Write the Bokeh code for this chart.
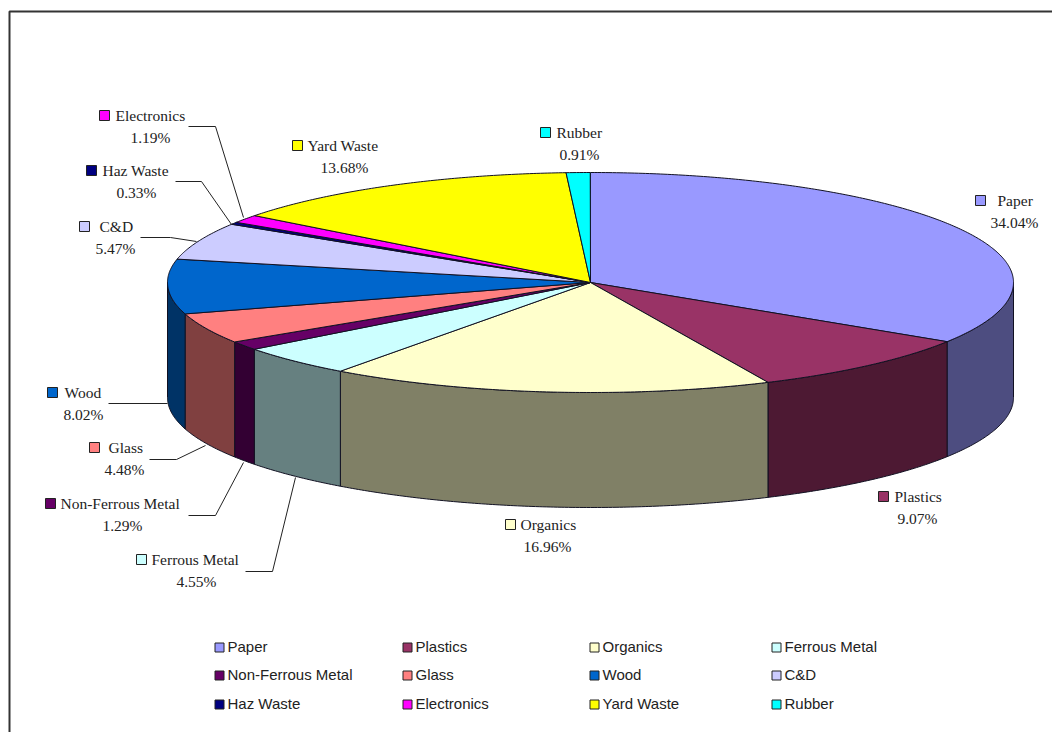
import math
from bokeh.plotting import figure
from bokeh.models import Range1d
from bokeh.core.properties import value
from bokeh.embed import file_html
from bokeh.resources import INLINE

categories = ["Paper", "Plastics", "Organics", "Ferrous Metal", "Non-Ferrous Metal", "Glass",
              "Wood", "C&D", "Haz Waste", "Electronics", "Yard Waste", "Rubber"]
shares = [34.04, 9.07, 16.96, 4.55, 1.29, 4.48, 8.02, 5.47, 0.33, 1.19, 13.68, 0.91]
top_colors = ["#9999FF", "#993366", "#FFFFCC", "#CCFFFF", "#660066", "#FF8080",
              "#0066CC", "#CCCCFF", "#000080", "#FF00FF", "#FFFF00", "#00FFFF"]
wall_colors = ["#4D4D80", "#4D1933", "#808066", "#668080", "#330033", "#804040",
               "#003366", "#666680", "#000040", "#800080", "#808000", "#008080"]

CX, CY, RX, RY, DEPTH = 590, 282, 423, 110, 115
SERIF = value("Liberation Serif")
SANS = value("Liberation Sans")


def rim(theta):
    """Point on the top ellipse, theta in degrees clockwise from twelve o'clock."""
    t = math.radians(theta)
    return CX + RX * math.sin(t), CY - RY * math.cos(t)


def arc(a, b):
    n = max(2, int(abs(b - a)) * 2 + 2)
    return [rim(a + (b - a) * i / (n - 1)) for i in range(n)]


p = figure(width=1052, height=732, output_backend="svg", toolbar_location=None,
           x_range=Range1d(0, 1052), y_range=Range1d(732, 0), min_border=0,
           x_axis_type=None, y_axis_type=None, background_fill_color="white",
           border_fill_color="white", outline_line_color=None)
p.grid.visible = False

# chart frame, running off the right and bottom of the page
p.line([9, 9, 1052], [732, 11, 11], line_color="#333333", line_width=2)

# walls of the front half, then the top slices
start = 0.0
for share, top, wall in zip(shares, top_colors, wall_colors):
    end = start + share * 3.6
    a, b = max(start, 90), min(end, 270)
    if a < b:
        pts = arc(a, b)
        xs = [q[0] for q in pts] + [q[0] for q in reversed(pts)]
        ys = [q[1] for q in pts] + [q[1] + DEPTH for q in reversed(pts)]
        p.patch(xs, ys, fill_color=wall, line_color="#111122", line_width=1)
    start = end

start = 0.0
for share, top in zip(shares, top_colors):
    end = start + share * 3.6
    pts = arc(start, end)
    p.patch([CX] + [q[0] for q in pts], [CY] + [q[1] for q in pts],
            fill_color=top, line_color="#111122", line_width=1)
    start = end

# leader lines from the labels to their slices
leaders = {
    "Electronics": ([188, 215, 243], [126, 126, 217]),
    "Haz Waste": ([175, 201, 231], [181, 181, 224]),
    "C&D": ([140, 170, 196], [237, 237, 241]),
    "Wood": ([108, 167], [403, 403]),
    "Glass": ([149, 176, 205], [459, 459, 445]),
    "Non-Ferrous Metal": ([188, 215, 243], [515, 515, 462]),
    "Ferrous Metal": ([245, 272, 295], [571, 571, 477]),
}
for xs, ys in leaders.values():
    p.line(xs, ys, line_color="#222222", line_width=1)

# slice labels: swatch x, swatch y, name x, percentage centre x
label_layout = {
    "Paper": (980, 200, 997, 1014),
    "Plastics": (883, 496, 894, 917),
    "Organics": (510, 524, 520, 547),
    "Ferrous Metal": (141, 559, 151, 196),
    "Non-Ferrous Metal": (50, 503, 60, 122),
    "Glass": (94, 447, 108, 124),
    "Wood": (52, 392, 64, 83),
    "C&D": (84, 226, 99, 115),
    "Haz Waste": (91, 170, 102, 136),
    "Electronics": (104, 115, 115, 150),
    "Yard Waste": (297, 145, 307, 344),
    "Rubber": (545, 132, 556, 579),
}
for name, share, color in zip(categories, shares, top_colors):
    sx, sy, tx, px = label_layout[name]
    p.rect([sx], [sy], 10, 10, fill_color=color, line_color="#222222", line_width=1)
    p.text([tx], [sy], text=[name], text_font=SERIF, text_font_size="15.5px",
           text_color="#222222", text_baseline="middle", text_align="left")
    p.text([px], [sy + 22], text=[f"{share:.2f}%"], text_font=SERIF, text_font_size="15.5px",
           text_color="#222222", text_baseline="middle", text_align="center")

# legend grid along the bottom
legend_x = [219, 407, 594, 776]
legend_y = [647, 675, 704]
for i, (name, color) in enumerate(zip(categories, top_colors)):
    lx, ly = legend_x[i % 4], legend_y[i // 4]
    p.rect([lx], [ly], 9, 9, fill_color=color, line_color="#222222", line_width=1)
    p.text([lx + 8], [ly - 1], text=[name], text_font=SANS, text_font_size="15px",
           text_color="#222222", text_baseline="middle", text_align="left")

open("out.html", "w").write(file_html(p, INLINE))
